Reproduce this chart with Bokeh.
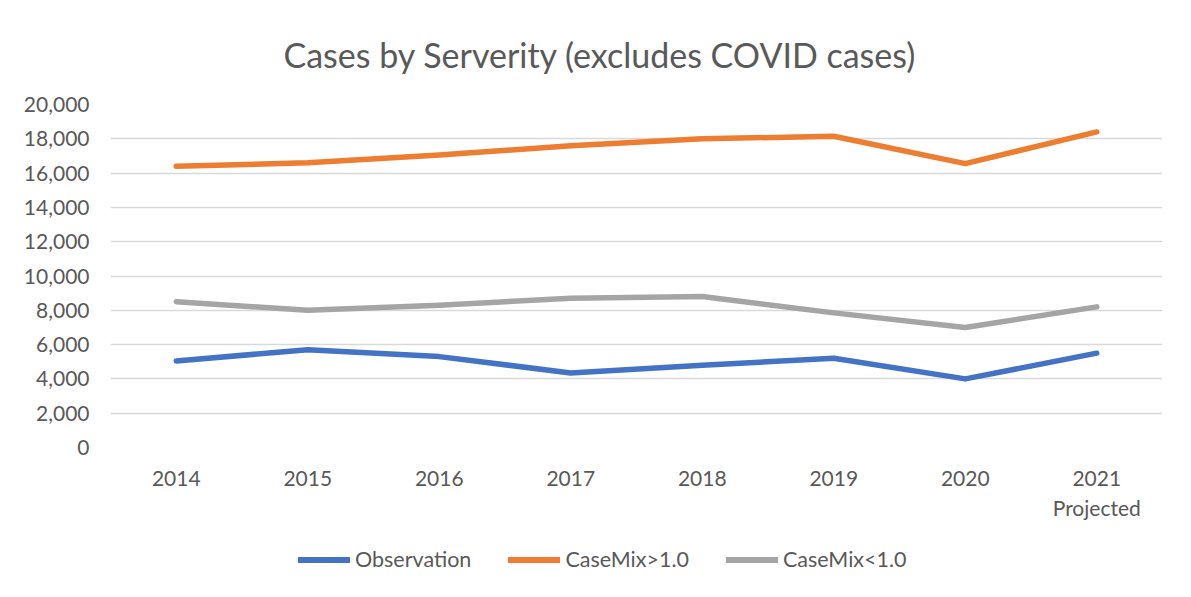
from bokeh.plotting import figure
from bokeh.layouts import column
from bokeh.models import Legend, LegendItem, FixedTicker, NumeralTickFormatter, Range1d
from bokeh.embed import file_html
from bokeh.resources import INLINE

years = ["2014", "2015", "2016", "2017", "2018", "2019", "2020", "2021\nProjected"]
observation = [5050, 5700, 5300, 4350, 4800, 5200, 4000, 5500]
casemix_gt = [16400, 16600, 17050, 17600, 18000, 18150, 16550, 18400]
casemix_lt = [8500, 8000, 8300, 8700, 8800, 7850, 7000, 8200]
y_ticks = [0, 2000, 4000, 6000, 8000, 10000, 12000, 14000, 16000, 18000, 20000]
series_names = ["Observation", "CaseMix>1.0", "CaseMix<1.0"]
series_colors = ["#4472C4", "#ED7D31", "#A5A5A5"]
series_values = [observation, casemix_gt, casemix_lt]

FONT = "Lato"
TXT = "#595959"

xs = list(range(len(years)))

p = figure(width=1191, height=532, output_backend="svg", toolbar_location=None,
           x_range=Range1d(-0.5, len(years) - 0.5), y_range=Range1d(0, 20000),
           min_border_left=110, min_border_right=29, min_border_top=104, min_border_bottom=85,
           title="Cases by Serverity (excludes COVID cases)")
p.outline_line_color = None
p.background_fill_color = "white"
p.border_fill_color = "white"

p.title.align = "left"
p.title.offset = 173
p.title.text_font = FONT
p.title.text_font_size = "34px"
p.title.text_font_style = "normal"
p.title.text_color = TXT
p.title.standoff = 60

renderers = []
for vals, col in zip(series_values, series_colors):
    renderers.append(p.line(xs, vals, line_color=col, line_width=5.5,
                            line_cap="round", line_join="round"))

p.yaxis.ticker = FixedTicker(ticks=y_ticks)
p.yaxis.formatter = NumeralTickFormatter(format="0,0")
p.xaxis.ticker = FixedTicker(ticks=xs)
p.xaxis.major_label_overrides = {i: y for i, y in enumerate(years)}

for ax in (p.xaxis[0], p.yaxis[0]):
    ax.axis_line_color = None
    ax.major_tick_line_color = None
    ax.minor_tick_line_color = None
    ax.major_tick_out = 0
    ax.major_tick_in = 0
    ax.major_label_text_font = FONT
    ax.major_label_text_font_size = "21px"
    ax.major_label_text_color = TXT
p.yaxis.major_label_standoff = 21
p.xaxis.major_label_standoff = 17

p.xgrid.grid_line_color = None
p.ygrid.grid_line_color = "#D9D9D9"
p.ygrid.grid_line_width = 1.5

# legend strip below the chart (its lines lie outside its visible range, only the legend shows)
lg = figure(width=1191, height=60, output_backend="svg", toolbar_location=None,
            x_range=Range1d(-0.5, len(years) - 0.5), y_range=Range1d(-2, -1),
            x_axis_location=None, y_axis_location=None,
            min_border_left=0, min_border_right=0, min_border_top=0, min_border_bottom=0)
lg.outline_line_color = None
lg.grid.grid_line_color = None
lg.background_fill_color = "white"
lg.border_fill_color = "white"
lg_items = []
for name, vals, col in zip(series_names, series_values, series_colors):
    r = lg.line(xs, vals, line_color=col, line_width=6, line_cap="round")
    lg_items.append(LegendItem(label=name, renderers=[r]))

legend = Legend(items=lg_items, orientation="horizontal", location=(188, 20),
                label_text_font=FONT, label_text_font_size="21.5px", label_text_color=TXT,
                glyph_width=52, glyph_height=25, spacing=37, label_standoff=5,
                border_line_color=None, background_fill_alpha=0, margin=0, padding=0)
lg.add_layout(legend, "center")

layout = column(p, lg, spacing=0)
open("out.html", "w").write(file_html(layout, INLINE))
